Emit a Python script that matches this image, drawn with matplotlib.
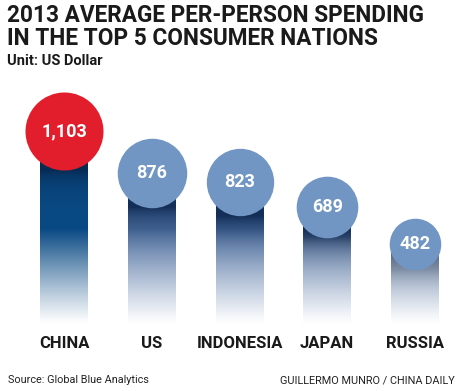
import matplotlib
matplotlib.use("Agg")
import matplotlib.pyplot as plt
import matplotlib.colors as mcolors
import numpy as np

countries = ["CHINA", "US", "INDONESIA", "JAPAN", "RUSSIA"]
spending = [1103, 876, 823, 689, 482]
value_labels = ["1,103", "876", "823", "689", "482"]

plt.rcParams["font.family"] = ["Roboto", "DejaVu Sans"]

W, H = 470, 391
fig = plt.figure(figsize=(W / 100, H / 100), dpi=100)
fig.patch.set_facecolor("white")

ax = fig.add_axes([0, 0, 1, 1])
ax.axis("off")

# pixel scale: 87.75 px between bars, 0.182 px per dollar
px_x = 87.75
px_y = 0.182
ax.set_xlim(-64 / px_x, (W - 64) / px_x)
ax.set_ylim(-59 / px_y, (H - 59) / px_y)

bar_w = 48 / px_x
r_max = 39  # radius in px of the biggest bubble
x = np.arange(len(countries))


def bar_image(value, radius_px, base, shadow, shadow_len):
    n = 400
    y = np.linspace(0, value, n)
    cb = value - radius_px / px_y          # bottom of the bubble
    alpha = np.clip((y - 45) / 520, 0, 1) ** 1.1
    s = np.exp(-np.clip(cb - y, 0, None) / shadow_len)
    b = np.array(mcolors.to_rgb(base))
    sh = np.array(mcolors.to_rgb(shadow))
    col = b[None, :] * (1 - s[:, None]) + sh[None, :] * s[:, None]
    rgb = 1 - alpha[:, None] * (1 - col)
    img = np.repeat(rgb[:, None, :], 4, axis=1)
    return img


for i, v in enumerate(spending):
    r = r_max * np.sqrt(v / spending[0])
    if i == 0:
        img = bar_image(v, r, "#0a4a84", "#062c55", 70)
        face = "#e21e2d"
    else:
        img = bar_image(v, r, "#4d6fa1", "#132f58", 90)
        face = "#7296c4"
    ax.imshow(img, extent=[x[i] - bar_w / 2, x[i] + bar_w / 2, 0, v],
              origin="lower", aspect="auto", zorder=1, interpolation="bilinear")
    ax.scatter(x[i], v, s=(2 * r * 0.72) ** 2, color=face, linewidths=0,
               zorder=3)
    ax.text(x[i], v, value_labels[i], color="white", fontsize=13,
            fontweight="bold", ha="center", va="center", zorder=4)
    ax.text(x[i], -16 / px_y, countries[i], color="#1a1a1a", fontsize=12,
            fontweight="bold", ha="center", va="baseline")


def fx(px):
    return px / W


def fy(py):
    return 1 - py / H


fig.text(fx(7), fy(22), "2013 AVERAGE PER-PERSON SPENDING", fontsize=16.3,
         fontweight="bold", color="#1a1a1a", va="baseline")
fig.text(fx(7), fy(45), "IN THE TOP 5 CONSUMER NATIONS", fontsize=16.3,
         fontweight="bold", color="#1a1a1a", va="baseline")
fig.text(fx(7), fy(65), "Unit: US Dollar", fontsize=10.5,
         fontweight="bold", color="#1a1a1a", va="baseline")

fig.text(fx(8), fy(383), "Source: Global Blue Analytics", fontsize=7.8,
         color="#222222", va="baseline")
fig.text(fx(455), fy(383), "GUILLERMO MUNRO / CHINA DAILY", fontsize=7.8,
         color="#222222", va="baseline", ha="right")

fig.savefig("out.png", dpi=100, facecolor="white")
